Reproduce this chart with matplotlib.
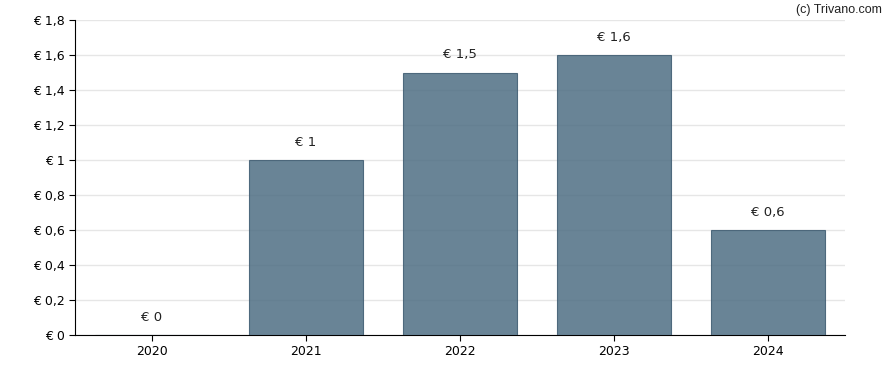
import matplotlib
matplotlib.use('Agg')
import matplotlib.pyplot as plt

years = ['2020', '2021', '2022', '2023', '2024']
values = [0, 1, 1.5, 1.6, 0.6]
labels = ['€ 0', '€ 1', '€ 1,5', '€ 1,6', '€ 0,6']
yticks = [0, 0.2, 0.4, 0.6, 0.8, 1.0, 1.2, 1.4, 1.6, 1.8]
ytick_labels = ['€ 0', '€ 0,2', '€ 0,4', '€ 0,6', '€ 0,8', '€ 1', '€ 1,2', '€ 1,4', '€ 1,6', '€ 1,8']

plt.rcParams['font.family'] = ['DejaVu Sans']

fig = plt.figure(figsize=(8.88, 3.7), dpi=100)
ax = fig.add_axes([75/888, 1 - 335/370, 770/888, 315/370])

x = range(len(years))
ax.bar(x, values, width=0.74, color='#4f6e84', alpha=0.85,
       edgecolor='#3d5a70', linewidth=0.8, zorder=3)

for xi, v, lab in zip(x, values, labels):
    ax.text(xi, v + 0.065, lab, ha='center', va='bottom', fontsize=9.5, color='#222222')

ax.set_xlim(-0.5, 4.5)
ax.set_ylim(0, 1.8)
ax.set_xticks(list(x))
ax.set_xticklabels(years, fontsize=9)
ax.set_yticks(yticks)
ax.set_yticklabels(ytick_labels, fontsize=9)
ax.yaxis.grid(True, color='#e6e6e6', linewidth=1, zorder=0)
ax.set_axisbelow(True)
for s in ['top', 'right']:
    ax.spines[s].set_visible(False)
ax.tick_params(axis='both', length=4, color='black')

fig.text(0.993, 0.99, '(c) Trivano.com', ha='right', va='top', fontsize=9,
         family='Liberation Sans', color='#222222')

fig.savefig('out.png', dpi=100)
